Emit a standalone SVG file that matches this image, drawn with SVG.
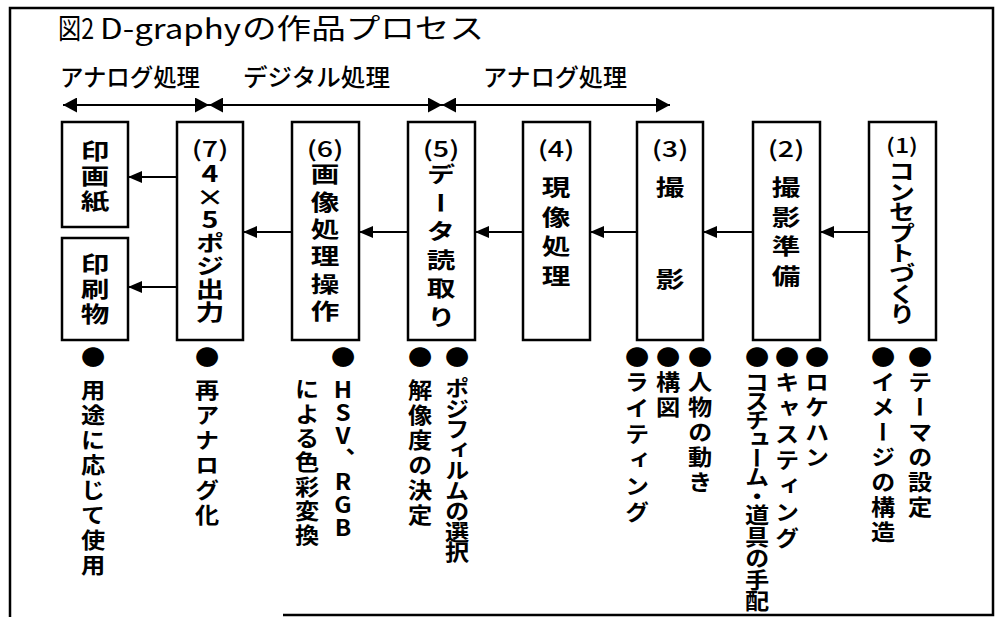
<svg xmlns="http://www.w3.org/2000/svg" width="997" height="617" viewBox="0 0 997 617">
<style>
text{font-family:"Noto Sans CJK JP","Noto Sans",sans-serif;fill:#000}
.box{fill:#fff;stroke:#000;stroke-width:2.5}
.vt{writing-mode:vertical-rl;text-orientation:upright;font-size:22px;font-weight:700}
.num{font-size:22px;font-weight:500;text-anchor:middle}
.ann{writing-mode:vertical-rl;text-orientation:upright;font-size:22px;font-weight:700;letter-spacing:3px}
.phase{font-size:24px;font-weight:500}
.ln{stroke:#000;stroke-width:2;fill:none}
</style>
<defs>
<marker id="ph" markerUnits="userSpaceOnUse" markerWidth="14" markerHeight="15" refX="14" refY="7.5" orient="auto-start-reverse"><path d="M0,0 L14,7.5 L0,15 z" fill="#000"/></marker>
<marker id="ar" markerUnits="userSpaceOnUse" markerWidth="14" markerHeight="12" refX="14" refY="6" orient="auto"><path d="M0,0 L14,6 L0,12 z" fill="#000"/></marker>
</defs>
<rect width="997" height="617" fill="#fff"/>
<path d="M10,617 L10,8 L993,8 L993,615 L283,615" fill="none" stroke="#000" stroke-width="2.5"/>
<text x="58" y="39" font-size="28" textLength="36" lengthAdjust="spacingAndGlyphs">図2</text>
<text x="100" y="39" font-size="28" textLength="141" lengthAdjust="spacingAndGlyphs">D-graphy</text>
<text x="242" y="39" font-size="28" textLength="242" lengthAdjust="spacingAndGlyphs">の作品プロセス</text>
<g id="phases">
<text class="phase" x="60" y="86" textLength="140" lengthAdjust="spacingAndGlyphs">アナログ処理</text>
<text class="phase" x="243" y="86" textLength="147" lengthAdjust="spacingAndGlyphs">デジタル処理</text>
<text class="phase" x="483" y="86" textLength="144" lengthAdjust="spacingAndGlyphs">アナログ処理</text>
</g>
<g id="connectors">
<line class="ln" x1="63" y1="105" x2="209" y2="105" marker-start="url(#ph)" marker-end="url(#ph)"/>
<line class="ln" x1="209" y1="105" x2="442" y2="105" marker-start="url(#ph)" marker-end="url(#ph)"/>
<line class="ln" x1="442" y1="105" x2="670" y2="105" marker-start="url(#ph)" marker-end="url(#ph)"/>
<line class="ln" x1="869" y1="232" x2="820" y2="232" marker-end="url(#ar)"/>
<line class="ln" x1="753" y1="232" x2="703" y2="232" marker-end="url(#ar)"/>
<line class="ln" x1="637" y1="232" x2="590" y2="232" marker-end="url(#ar)"/>
<line class="ln" x1="523" y1="232" x2="475" y2="232" marker-end="url(#ar)"/>
<line class="ln" x1="408" y1="232" x2="359" y2="232" marker-end="url(#ar)"/>
<line class="ln" x1="292" y1="232" x2="243" y2="232" marker-end="url(#ar)"/>
<line class="ln" x1="177" y1="177" x2="128" y2="177" marker-end="url(#ar)"/>
<line class="ln" x1="177" y1="287" x2="128" y2="287" marker-end="url(#ar)"/>
</g>
<g id="node-print-paper">
<rect class="box" x="62" y="122" width="66" height="105"/>
<text class="vt" transform="translate(95,140) scale(1.3,1)" style="letter-spacing:3px">印画紙</text>
</g>
<g id="node-printed-matter">
<rect class="box" x="62" y="238" width="66" height="102"/>
<text class="vt" transform="translate(95,253) scale(1.3,1)" style="letter-spacing:3px">印刷物</text>
</g>
<g id="node-7">
<rect class="box" x="177" y="122" width="66" height="218"/>
<text class="num" transform="translate(210,157) scale(1.3,1)">(7)</text>
<text class="vt" transform="translate(210,163) scale(1.3,1)" style="letter-spacing:1px">4×5ポジ出力</text>
</g>
<g id="node-6">
<rect class="box" x="292" y="122" width="67" height="218"/>
<text class="num" transform="translate(325,157) scale(1.3,1)">(6)</text>
<text class="vt" transform="translate(325,163) scale(1.3,1)" style="letter-spacing:5.3px">画像処理操作</text>
</g>
<g id="node-5">
<rect class="box" x="408" y="122" width="67" height="218"/>
<text class="num" transform="translate(441,157) scale(1.3,1)">(5)</text>
<text class="vt" transform="translate(441,163) scale(1.3,1)" style="letter-spacing:6.5px">データ読取り</text>
</g>
<g id="node-4">
<rect class="box" x="523" y="122" width="67" height="218"/>
<text class="num" transform="translate(556,157) scale(1.3,1)">(4)</text>
<text class="vt" transform="translate(556,176) scale(1.3,1)" style="letter-spacing:7.5px">現像処理</text>
</g>
<g id="node-3">
<rect class="box" x="637" y="122" width="66" height="218"/>
<text class="num" transform="translate(670,157) scale(1.3,1)">(3)</text>
<text class="vt" transform="translate(670,176) scale(1.3,1)" style="letter-spacing:70px">撮影</text>
</g>
<g id="node-2">
<rect class="box" x="753" y="122" width="67" height="218"/>
<text class="num" transform="translate(786,157) scale(1.3,1)">(2)</text>
<text class="vt" transform="translate(786,176) scale(1.3,1)" style="letter-spacing:7.5px">撮影準備</text>
</g>
<g id="node-1">
<rect class="box" x="869" y="122" width="67" height="218"/>
<text class="num" transform="translate(902,153) scale(1.25,1)" style="font-size:20px">(1)</text>
<text class="vt" transform="translate(902,160) scale(1.2,1)" style="letter-spacing:-1.6px">コンセプトづくり</text>
</g>
<g id="notes">
<text class="ann" transform="translate(93,346) scale(1.1,1)">●<tspan dy="8">用途に応じて使用</tspan></text>
<text class="ann" transform="translate(207,346) scale(1.1,1)">●<tspan dy="8">再アナログ化</tspan></text>
<text class="ann" transform="translate(343,346) scale(1.1,1)">●<tspan dy="8" style="letter-spacing:1px">HSV、RGB</tspan></text>
<text class="ann" transform="translate(307,378) scale(1.1,1)" style="letter-spacing:2.3px">による色彩変換</text>
<text class="ann" transform="translate(420,346) scale(1.1,1)">●<tspan dy="8">解像度の決定</tspan></text>
<text class="ann" transform="translate(457,346) scale(1.1,1)">●<tspan dy="6" style="letter-spacing:-1.5px">ポジフィルムの選択</tspan></text>
<text class="ann" transform="translate(637,346) scale(1.1,1)">●<tspan style="letter-spacing:4px">ライティング</tspan></text>
<text class="ann" transform="translate(668,346) scale(1.1,1)">●構図</text>
<text class="ann" transform="translate(700,346) scale(1.1,1)">●人物の動き</text>
<text class="ann" transform="translate(757,346) scale(1.1,1)">●<tspan style="letter-spacing:-3px">コスチューム・</tspan><tspan style="letter-spacing:-0.5px">道具の手配</tspan></text>
<text class="ann" transform="translate(787,346) scale(1.1,1)">●<tspan style="letter-spacing:4px">キャスティング</tspan></text>
<text class="ann" transform="translate(817,346) scale(1.1,1)">●ロケハン</text>
<text class="ann" transform="translate(883,346) scale(1.1,1)">●イメージの構造</text>
<text class="ann" transform="translate(920,346) scale(1.1,1)">●テーマの設定</text>
</g>
</svg>
